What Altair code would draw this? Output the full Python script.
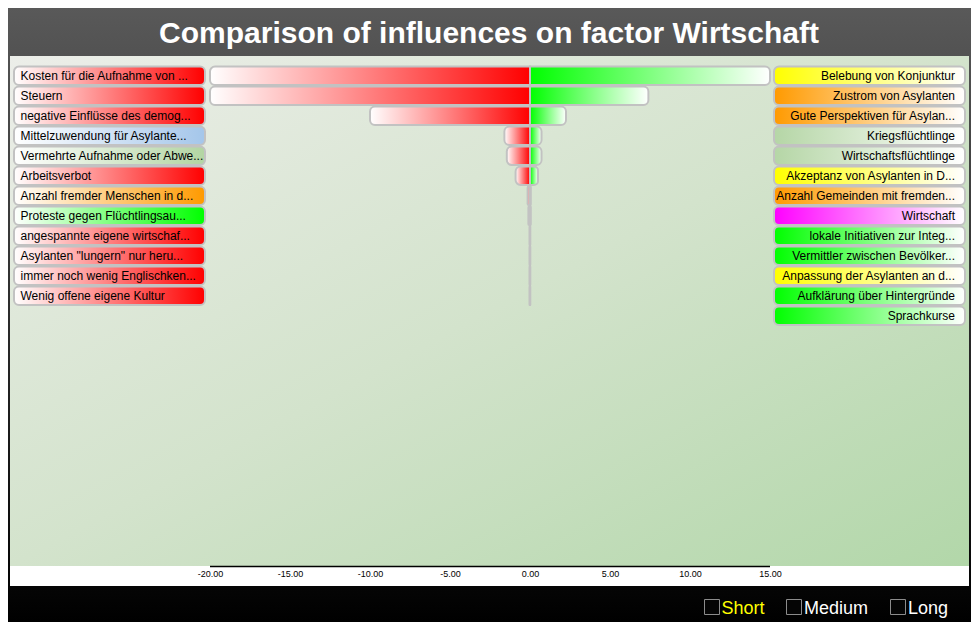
import altair as alt
import pandas as pd

# ---------------- data ----------------
left_labels = [
    "Kosten für die Aufnahme von ...",
    "Steuern",
    "negative Einflüsse des demog...",
    "Mittelzuwendung für Asylante...",
    "Vermehrte Aufnahme oder Abwe...",
    "Arbeitsverbot",
    "Anzahl fremder Menschen in d...",
    "Proteste gegen Flüchtlingsau...",
    "angespannte eigene wirtschaf...",
    "Asylanten \"lungern\" nur heru...",
    "immer noch wenig Englischken...",
    "Wenig offene eigene Kultur",
]
left_colors = ["#ff0000", "#ff0000", "#ff0000", "#a4c6ea", "#b2d5a2", "#ff0000",
               "#ff9a00", "#00ff00", "#ff0000", "#ff0000", "#ff0000", "#ff0000"]

right_labels = [
    "Belebung von Konjunktur",
    "Zustrom von Asylanten",
    "Gute Perspektiven für Asylan...",
    "Kriegsflüchtlinge",
    "Wirtschaftsflüchtlinge",
    "Akzeptanz von Asylanten in D...",
    "Anzahl Gemeinden mit fremden...",
    "Wirtschaft",
    "lokale Initiativen zur Integ...",
    "Vermittler zwischen Bevölker...",
    "Anpassung der Asylanten an d...",
    "Aufklärung über Hintergründe",
    "Sprachkurse",
]
right_colors = ["#ffff00", "#ff9a00", "#ff9a00", "#b5d6a6", "#b5d6a6", "#ffff00",
                "#ff9a00", "#ff00ff", "#00ff00", "#00ff00", "#ffff00", "#00ff00", "#00ff00"]

neg_values = [-20, -20, -10, -1.6, -1.45, -0.9, -0.15, -0.1, -0.03, -0.03, -0.03, -0.03]
pos_values = [15, 7.4, 2.25, 0.72, 0.72, 0.5, 0.05, 0.05, 0.02, 0.02, 0.02, 0.02]

tick_values = [-20, -15, -10, -5, 0, 5, 10, 15]
title_text = "Comparison of influences on factor Wirtschaft"
legend_items = ["Short", "Medium", "Long"]
legend_colors = ["#ffff00", "#ffffff", "#ffffff"]

# ---------------- tables ----------------
n = len(neg_values)
bars = pd.DataFrame({
    "row": list(range(1, n + 1)),
    "neg": neg_values,
    "pos": pos_values,
})
bars["zero"] = 0.0
bars["top"] = bars["row"] - 0.47
bars["bot"] = bars["row"] + 0.45

left = pd.DataFrame({"row": list(range(1, len(left_labels) + 1)),
                     "label": left_labels, "color": left_colors})
left["top"] = left["row"] - 0.47
left["bot"] = left["row"] + 0.45
right = pd.DataFrame({"row": list(range(1, len(right_labels) + 1)),
                      "label": right_labels, "color": right_colors})
right["top"] = right["row"] - 0.47
right["bot"] = right["row"] + 0.45

axis_line = pd.DataFrame({"a": [tick_values[0]], "b": [tick_values[-1]]})
one = pd.DataFrame({"k": [0]})
legend_df = pd.DataFrame({"name": legend_items, "color": legend_colors,
                          "box_x": [694, 776, 880], "text_x": [711.5, 794, 898]})

# ---------------- scales ----------------
FONT = "Liberation Sans"
xscale = alt.Scale(domain=[-32.5, 27.4375], nice=False, zero=False)
yscale = alt.Scale(domain=[25.5, 0], nice=False, zero=False)
xaxis = alt.Axis(values=tick_values, domain=False, ticks=False, tickSize=0,
                 labelExpr="replace(format(datum.value, '.2f'), '\u2212', '-')",
                 grid=False, labelFont=FONT, labelFontSize=9, labelColor="black",
                 labelPadding=3, title=None, zindex=1, labelFlush=False)


def hgrad(c0, c1):
    return {"gradient": "linear", "x1": 0, "y1": 0, "x2": 1, "y2": 0,
            "stops": [{"offset": 0, "color": c0}, {"offset": 1, "color": c1}]}


BORDER = "#c2c2c2"

# ---------------- layers ----------------
page_bg = alt.Chart(one).mark_rect(
    fill={"gradient": "linear", "x1": 0, "y1": 0, "x2": 0, "y2": 1,
          "stops": [{"offset": 0, "color": "#595959"},
                    {"offset": 0.5, "color": "#2c2c2c"},
                    {"offset": 0.93, "color": "#060606"},
                    {"offset": 1, "color": "#000000"}]}
).encode(x=alt.value(-2), x2=alt.value(961), y=alt.value(-48), y2=alt.value(566))

panel_bg = alt.Chart(one).mark_rect(
    fill={"gradient": "linear", "x1": 0, "y1": 0, "x2": 1, "y2": 1,
          "stops": [{"offset": 0, "color": "#eceee9"},
                    {"offset": 0.5, "color": "#d3e3cc"},
                    {"offset": 1, "color": "#b2d7a9"}]}
).encode(x=alt.value(0), x2=alt.value(959), y=alt.value(0), y2=alt.value(510))

axis_strip = alt.Chart(one).mark_rect(fill="white").encode(
    x=alt.value(0), x2=alt.value(959), y=alt.value(510), y2=alt.value(530))

axis_rule = alt.Chart(axis_line).mark_rule(color="black", strokeWidth=1.5).encode(
    x=alt.X("a:Q", scale=xscale, axis=xaxis), x2="b:Q", y=alt.value(510.5))

neg_bars = alt.Chart(bars).mark_rect(
    fill=hgrad("#ffffff", "#ff0000"), stroke=BORDER, strokeWidth=2,
    cornerRadiusTopLeft=5, cornerRadiusBottomLeft=5
).encode(x=alt.X("neg:Q", scale=xscale, axis=xaxis), x2="zero:Q",
         y=alt.Y("top:Q", scale=yscale, axis=None), y2="bot:Q")

pos_bars = alt.Chart(bars).mark_rect(
    fill=hgrad("#00ff00", "#ffffff"), stroke=BORDER, strokeWidth=2,
    cornerRadiusTopRight=5, cornerRadiusBottomRight=5
).encode(x=alt.X("zero:Q", scale=xscale, axis=xaxis), x2="pos:Q",
         y=alt.Y("top:Q", scale=yscale, axis=None), y2="bot:Q")

layers = [page_bg, panel_bg, axis_strip, axis_rule, neg_bars, pos_bars]

for c in sorted(set(left_colors)):
    layers.append(
        alt.Chart(left).transform_filter(alt.datum.color == c).mark_rect(
            fill=hgrad("#ffffff", c), stroke=BORDER, strokeWidth=2, cornerRadius=5
        ).encode(x=alt.value(4), x2=alt.value(195),
                 y=alt.Y("top:Q", scale=yscale, axis=None), y2="bot:Q"))

for c in sorted(set(right_colors)):
    layers.append(
        alt.Chart(right).transform_filter(alt.datum.color == c).mark_rect(
            fill=hgrad(c, "#ffffff"), stroke=BORDER, strokeWidth=2, cornerRadius=5
        ).encode(x=alt.value(764), x2=alt.value(955),
                 y=alt.Y("top:Q", scale=yscale, axis=None), y2="bot:Q"))

left_text = alt.Chart(left).mark_text(
    align="left", baseline="middle", font=FONT, fontSize=12, color="black"
).encode(x=alt.value(10.5), y=alt.Y("row:Q", scale=yscale, axis=None), text="label:N")

right_text = alt.Chart(right).mark_text(
    align="right", baseline="middle", font=FONT, fontSize=12, color="black"
).encode(x=alt.value(945), y=alt.Y("row:Q", scale=yscale, axis=None), text="label:N")

title = alt.Chart(one).mark_text(
    text=title_text, align="center", baseline="alphabetic", font=FONT,
    fontSize=30, fontWeight="bold", color="white"
).encode(x=alt.value(479), y=alt.value(-13))

layers += [left_text, right_text, title]

for i, row in legend_df.iterrows():
    bx = float(row["box_x"])
    layers.append(alt.Chart(one).mark_rect(
        fill="#050505", stroke="#8c8c8c", strokeWidth=1
    ).encode(x=alt.value(bx + 0.5), x2=alt.value(bx + 15.5),
             y=alt.value(543.5), y2=alt.value(558.5)))
    layers.append(alt.Chart(one).mark_text(
        text=row["name"], align="left", baseline="alphabetic", font=FONT,
        fontSize=18, color=row["color"]
    ).encode(x=alt.value(float(row["text_x"])), y=alt.value(557.5)))

chart = alt.layer(*layers).properties(
    width=959, height=510,
    autosize=alt.AutoSizeParams(type="none"),
    padding={"left": 2, "top": 48, "right": 2, "bottom": 56},
    background="#000000",
).configure_view(stroke=None)

chart.save("out.html", embed_options={"renderer": "svg", "actions": False})
